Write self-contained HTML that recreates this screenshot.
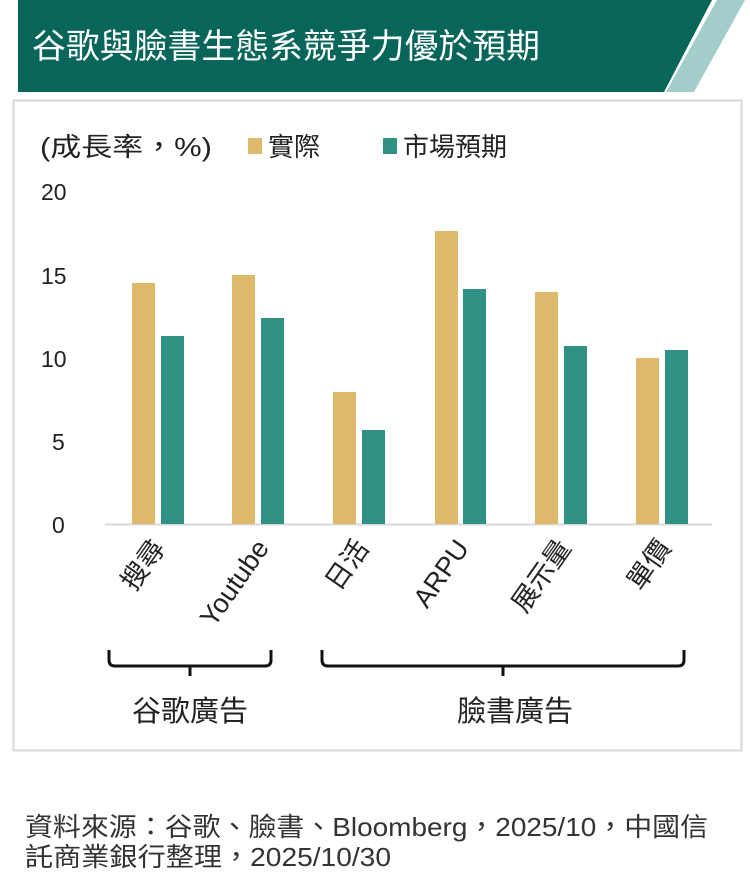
<!DOCTYPE html>
<html><head><meta charset="utf-8"><style>
body{margin:0;background:#fff;width:750px;height:888px;overflow:hidden;font-family:"Liberation Sans","Noto Sans CJK TC",sans-serif}
</style></head><body>
<svg width="750" height="888" xmlns="http://www.w3.org/2000/svg" style="position:absolute;left:0;top:0">
<polygon points="18,0 712,0 664,92 18,92" fill="#07655a"/>
<polygon points="717,0 745,0 694,92 666,92" fill="#a3cdca"/>
<text x="32" y="58" fill="#fff" font-size="34" font-family="Liberation Sans,Noto Sans CJK TC,sans-serif" textLength="508" lengthAdjust="spacingAndGlyphs">谷歌與臉書生態系競爭力優於預期</text>
<rect x="13.5" y="100.5" width="728" height="650" fill="#fff" stroke="#d9d9d9" stroke-width="2"/>
<g font-family="Liberation Sans,Noto Sans CJK TC,sans-serif" fill="#222" font-size="26">
<text x="40" y="156" textLength="172" lengthAdjust="spacingAndGlyphs">(成長率，%)</text>
<rect x="248" y="138" width="14" height="16" fill="#dfb96b"/>
<text x="268" y="156">實際</text>
<rect x="383" y="138" width="14" height="16" fill="#2f9285"/>
<text x="403" y="156">市場預期</text>
</g>
<g font-family="Liberation Sans,Noto Sans CJK TC,sans-serif" fill="#222" font-size="23">
<text x="41" y="200">20</text>
<text x="41" y="284">15</text>
<text x="41" y="367">10</text>
<text x="52" y="450">5</text>
<text x="52" y="533">0</text>
</g>
<line x1="105" y1="524.5" x2="712" y2="524.5" stroke="#d9d9d9" stroke-width="2"/>
<g fill="#dfb96b">
<rect x="132" y="283" width="23" height="241"/>
<rect x="232" y="275" width="23" height="249"/>
<rect x="333" y="392" width="23" height="132"/>
<rect x="435" y="231" width="23" height="293"/>
<rect x="535" y="292" width="23" height="232"/>
<rect x="636" y="358" width="23" height="166"/>
</g>
<g fill="#2f9285">
<rect x="161" y="336" width="23" height="188"/>
<rect x="261" y="318" width="23" height="206"/>
<rect x="362" y="430" width="23" height="94"/>
<rect x="463" y="289" width="23" height="235"/>
<rect x="564" y="346" width="23" height="178"/>
<rect x="665" y="350" width="23" height="174"/>
</g>
<g font-family="Liberation Sans,Noto Sans CJK TC,sans-serif" fill="#222" font-size="27" text-anchor="end">
<text transform="translate(166,548) rotate(-55)">搜尋</text>
<text transform="translate(270,548) rotate(-55)">Youtube</text>
<text transform="translate(370,548) rotate(-55)">日活</text>
<text transform="translate(470,548) rotate(-55)">ARPU</text>
<text transform="translate(572,548) rotate(-55)">展示量</text>
<text transform="translate(672,548) rotate(-55)">單價</text>
</g>
<g fill="none" stroke="#111" stroke-width="3">
<path d="M109,650 v10 q0,6 6,6 h150 q6,0 6,-6 v-10 M190,666 v10"/>
<path d="M322,650 v10 q0,6 6,6 h350 q6,0 6,-6 v-10 M503,666 v10"/>
</g>
<g font-family="Liberation Sans,Noto Sans CJK TC,sans-serif" fill="#222" font-size="29" text-anchor="middle">
<text x="190" y="721">谷歌廣告</text>
<text x="515" y="721">臉書廣告</text>
</g>
<g font-family="Liberation Sans,Noto Sans CJK TC,sans-serif" fill="#333" font-size="26">
<text x="25" y="836" textLength="683" lengthAdjust="spacingAndGlyphs">資料來源：谷歌、臉書、Bloomberg，2025/10，中國信</text>
<text x="25" y="866" textLength="366" lengthAdjust="spacingAndGlyphs">託商業銀行整理，2025/10/30</text>
</g>
</svg>
</body></html>
